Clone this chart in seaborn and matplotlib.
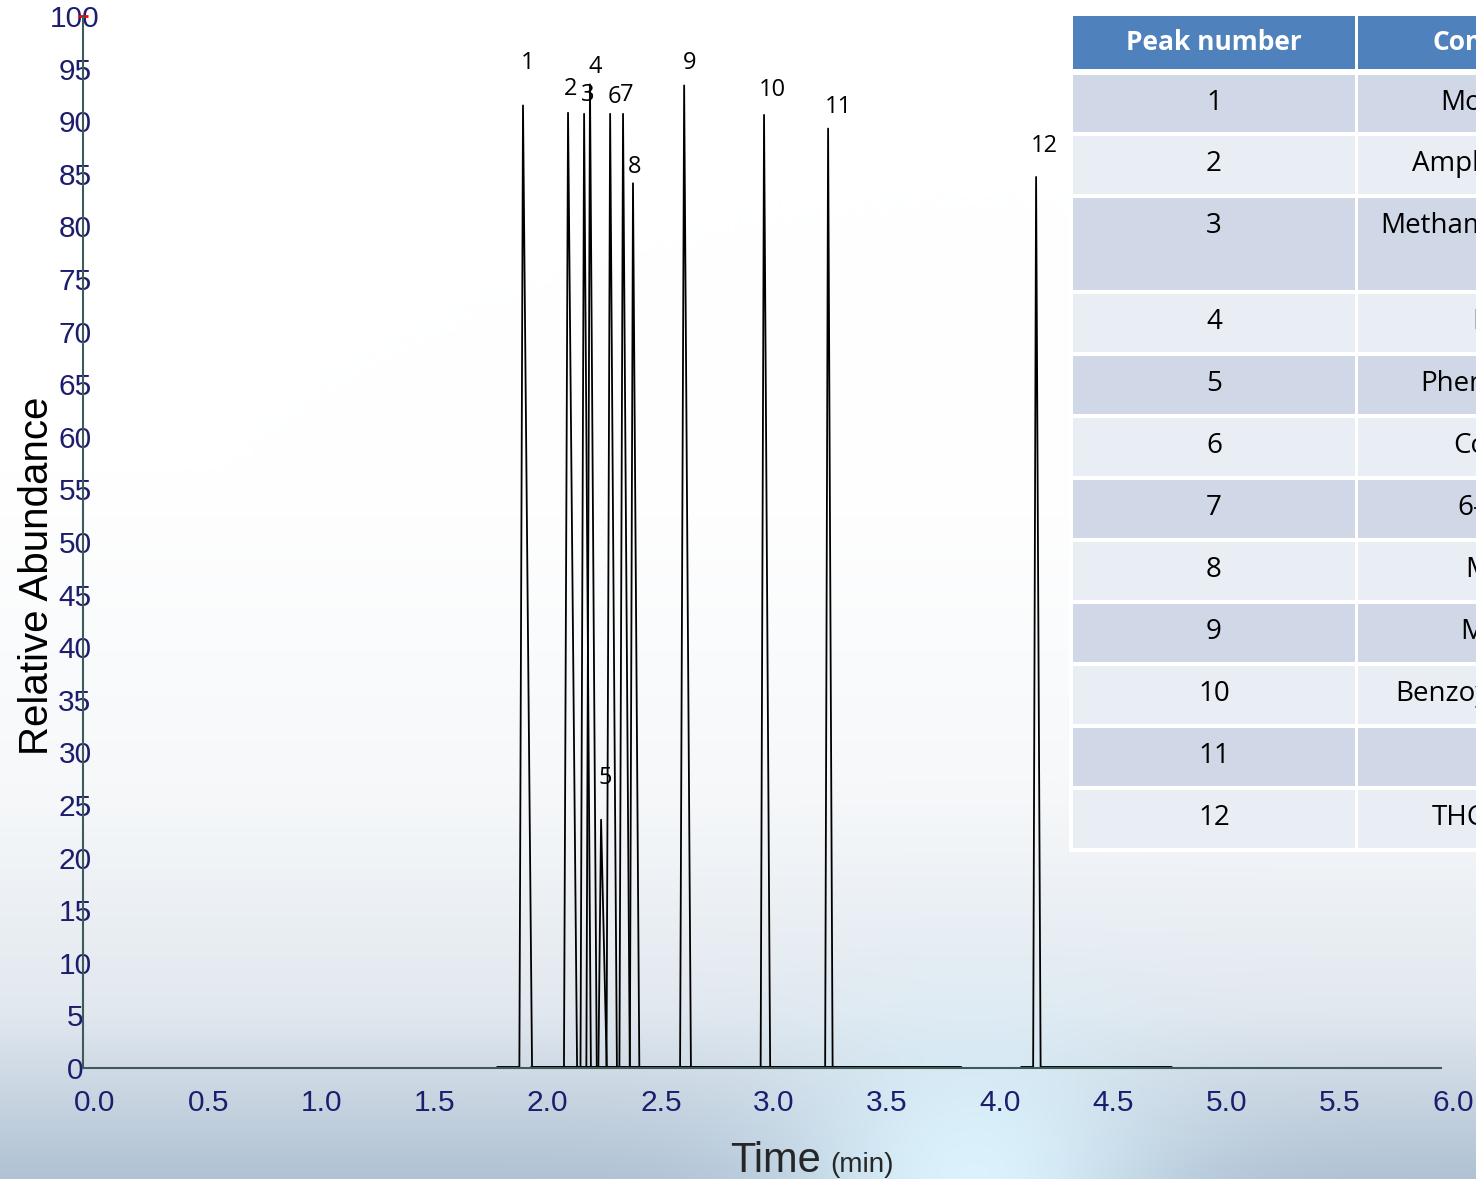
import numpy as np
import pandas as pd
import seaborn as sns
import matplotlib
matplotlib.use('Agg')
from matplotlib import pyplot as plt
from matplotlib.patches import Rectangle
from matplotlib.transforms import Affine2D, ScaledTranslation
from matplotlib.ticker import MultipleLocator, FormatStrFormatter

# peaks (time in min, relative abundance in %)
peak_no = [1, 2, 3, 4, 5, 6, 7, 8, 9, 10, 11, 12]
peak_rt = [1.944, 2.143, 2.214, 2.240, 2.289, 2.329, 2.386, 2.430, 2.656, 3.009, 3.292, 4.211]
peak_height = [91.5, 90.8, 90.7, 93.5, 23.6, 90.7, 90.7, 84.1, 93.4, 90.6, 89.3, 84.7]
peak_front = [0.016, 0.018, 0.016, 0.016, 0.012, 0.016, 0.016, 0.014, 0.018, 0.015, 0.013, 0.013]
peak_tail = [0.040, 0.040, 0.030, 0.030, 0.025, 0.030, 0.030, 0.028, 0.030, 0.027, 0.020, 0.020]
# each trace covers its own time window
seg_start = [1.83, 1.98, 2.05, 2.05, 2.10, 2.10, 2.15, 2.15, 2.20, 2.50, 2.60, 4.145]
seg_end = [2.35, 2.60, 2.70, 2.70, 2.75, 3.00, 3.10, 3.10, 3.30, 3.70, 3.88, 4.81]
baseline = 0.1

compounds = ['Morphine', 'Amphetamine', 'Methamphetamine', 'MDA', 'Phentermine', 'Cocaine',
             '6-MAM', 'MDEA', 'MDMA', 'Benzoylecgonine', '', 'THC-COOH']
table_header = ['Peak number', 'Compound']

sns.set_style('white')
plt.rcParams['font.family'] = ['Liberation Sans', 'DejaVu Sans']

rows = []
for i, n in enumerate(peak_no):
    pts = [(seg_start[i], baseline),
           (peak_rt[i] - peak_front[i], baseline),
           (peak_rt[i], peak_height[i]),
           (peak_rt[i] + peak_tail[i], baseline),
           (seg_end[i], baseline)]
    for t, a in pts:
        rows.append({'peak': n, 'time': t, 'abundance': a})
trace = pd.DataFrame(rows)

W, H = 1476, 1179
fig = plt.figure(figsize=(W / 100, H / 100), dpi=100)

# background: white fading to pale blue-grey with a glow at the bottom
bg = fig.add_axes([0, 0, 1, 1], zorder=-10)
yy, xx = np.mgrid[0:1:300j, 0:1:370j]
d = np.interp(yy, [0, 0.4, 0.68, 0.86, 1.0], [0, 0, 0.12, 0.38, 1.0])
low = np.array([0.69, 0.76, 0.83])
img = np.ones((300, 370, 3)) * (1 - d[..., None]) + low * d[..., None]
glow = np.exp(-(((xx - 0.66) / 0.09) ** 2 + ((yy - 1.0) / 0.10) ** 2) / 2)
img = img * (1 - glow[..., None]) + np.array([0.86, 0.95, 0.99]) * glow[..., None]
bg.imshow(img, aspect='auto', extent=[0, 1, 0, 1], interpolation='bilinear')
bg.axis('off')

ax = fig.add_axes([83 / W, 1 - 1068 / H, 1358 / W, 1052 / H])
ax.patch.set_alpha(0)
sns.lineplot(data=trace, x='time', y='abundance', units='peak', estimator=None, sort=False,
             color='black', lw=1.3, ax=ax, legend=False)

navy = '#1d1d6e'
axc = '#3e5b5b'
ax.set_xlim(0, 6)
ax.set_ylim(0, 100)
ax.xaxis.set_major_locator(MultipleLocator(0.5))
ax.xaxis.set_minor_locator(MultipleLocator(0.05))
ax.xaxis.set_major_formatter(FormatStrFormatter('%.1f'))
ax.yaxis.set_major_locator(MultipleLocator(5))
ax.yaxis.set_minor_locator(MultipleLocator(1))
for s in ['top', 'right']:
    ax.spines[s].set_visible(False)
for s in ['left', 'bottom']:
    ax.spines[s].set_color(axc)
    ax.spines[s].set_linewidth(1.5)
ax.tick_params(axis='x', which='major', direction='out', length=12, width=1.3, color=axc,
               labelsize=21.5, labelcolor=navy, pad=3)
ax.tick_params(axis='x', which='minor', direction='out', length=6, width=1.1, color=axc)
ax.tick_params(axis='y', which='major', direction='in', length=6, width=1.1, color=axc,
               labelsize=21.5, labelcolor=navy, pad=5.8)
ax.tick_params(axis='y', which='minor', direction='in', length=5, width=1.1, color=axc)
for lab in ax.get_yticklabels():
    lab.set_ha('center')
for lab in ax.get_xticklabels():
    lab.set_transform(lab.get_transform() + ScaledTranslation(0.12, 0, fig.dpi_scale_trans))
ax.plot(0, 100, marker='_', color='red', ms=7, mew=2, clip_on=False)

ax.set_ylabel('Relative Abundance', fontsize=29, color='black', va='center')
ax.yaxis.set_label_coords((37 - 83) / 1358, (1068 - 576) / 1052)
ax.set_xlabel('')
ax.text((730 - 83) / 1358, -(1172 - 1068) / 1052, 'Time', transform=ax.transAxes,
        fontsize=30, va='baseline', ha='left')
ax.text((830 - 83) / 1358, -(1172 - 1068) / 1052, '(min)', transform=ax.transAxes,
        fontsize=20, va='baseline', ha='left')

# peak numbers above the apexes
label_off = [(5, 42), (3, 24), (4, 19), (5, 17), (4, 42), (4, 17),
             (4, 19), (2, 16), (5, 22), (8, 25), (10, 22), (8, 31)]
for i, n in enumerate(peak_no):
    ax.annotate(str(n), xy=(peak_rt[i], peak_height[i]), xytext=label_off[i],
                textcoords='offset pixels', ha='center', va='center',
                fontsize=17, family='Open Sans', color='black')

# compound table (pixel layout, top-down)
tr = Affine2D().scale(1 / W, -1 / H).translate(0, 1) + fig.transFigure
col_x = [(1073, 1355), (1358, 1650)]
row_top = [75, 136, 198, 294, 356, 418, 480, 542, 604, 666, 728, 790]
row_bot = [132, 194, 290, 352, 414, 476, 538, 600, 662, 724, 786, 848]
fig.add_artist(Rectangle((1069, 13), 600, 839, fc='white', ec='none', transform=tr, zorder=2))
for c, (x0, x1) in enumerate(col_x):
    fig.add_artist(Rectangle((x0, 16), x1 - x0, 53, fc='#4f81bd', ec='none', transform=tr, zorder=3))
    fig.text((x0 + x1) / 2, 43, table_header[c], transform=tr, ha='center', va='center',
             fontsize=19, fontweight='bold', family='Open Sans', color='white', zorder=4)
    for r in range(len(peak_no)):
        fc = '#d0d8e8' if r % 2 == 0 else '#e9edf4'
        fig.add_artist(Rectangle((x0, row_top[r]), x1 - x0, row_bot[r] - row_top[r], fc=fc,
                                 ec='none', transform=tr, zorder=3))
        ty = min((row_top[r] + row_bot[r]) / 2, row_top[r] + 28)
        txt = str(peak_no[r]) if c == 0 else compounds[r]
        fig.text((x0 + x1) / 2, ty, txt, transform=tr, ha='center', va='center',
                 fontsize=20, family='Open Sans', color='black', zorder=4)

fig.savefig('out.png', dpi=100)
